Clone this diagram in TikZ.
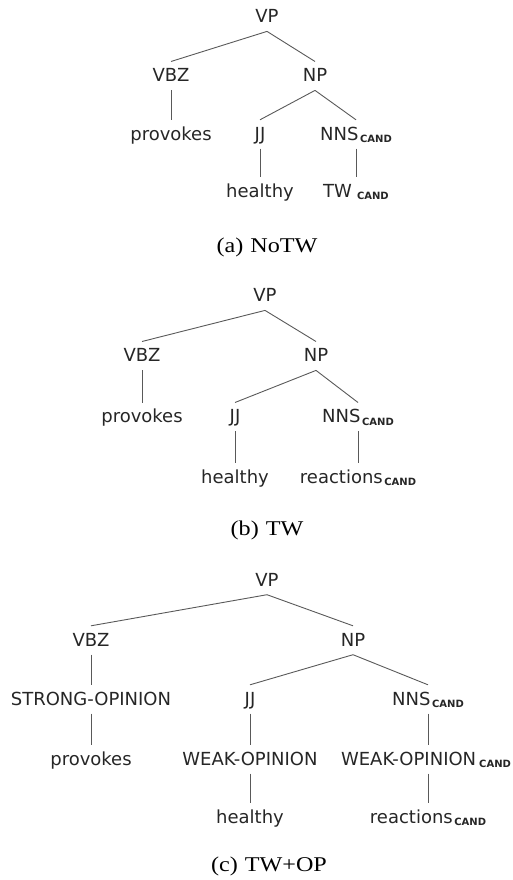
\documentclass[tikz,border=0pt]{standalone}
\usepackage{fontspec}
\setmainfont{Liberation Serif}
\newfontfamily\treefont{DejaVu Sans}
\newfontfamily\capfont[FakeStretch=1.15]{Liberation Serif}
\newcommand{\cand}[1][1.5pt]{\kern#1\raisebox{-2.5pt}{\fontsize{10}{10}\selectfont\bfseries CAND}}
\tikzset{
	lbl/.style={font=\treefont\fontsize{18}{20}\selectfont, text=black!85, inner sep=0pt, text height=20pt, text depth=8.5pt, anchor=base},
	capt/.style={font=\capfont\fontsize{21}{24}\selectfont, inner sep=0pt, anchor=base},
	edge/.style={draw=black!65, line width=0.9pt}
}
\begin{document}
\begin{tikzpicture}[x=1pt,y=-1pt]
\useasboundingbox (0,0) rectangle (512,880);
\node[lbl] (vp1) at (267,22.7) {VP};
\node[lbl] (vbz1) at (171,81.7) {VBZ};
\node[lbl] (np1) at (315,81.7) {NP};
\node[lbl] (prov1) at (171,140) {provokes};
\node[lbl] (jj1) at (260,140) {JJ};
\node[lbl] (nns1) at (356,140) {NNS\cand};
\node[lbl] (hea1) at (260,197.3) {healthy};
\node[lbl] (tw1) at (356,197.3) {TW\cand[5pt]};
\node[capt] (cap1) at (267,252) {(a)\hspace{7pt}NoTW};
\node[lbl] (vp2) at (265,301.7) {VP};
\node[lbl] (vbz2) at (142,361.7) {VBZ};
\node[lbl] (np2) at (316,361.7) {NP};
\node[lbl] (prov2) at (142,422.7) {provokes};
\node[lbl] (jj2) at (235,422.7) {JJ};
\node[lbl] (nns2) at (358,422.7) {NNS\cand};
\node[lbl] (hea2) at (235,483) {healthy};
\node[lbl] (rea2) at (358,483) {reactions\cand};
\node[capt] (cap2) at (267,535) {(b)\hspace{7pt}TW};
\node[lbl] (vp3) at (267,586) {VP};
\node[lbl] (vbz3) at (91,646) {VBZ};
\node[lbl] (np3) at (353,646) {NP};
\node[lbl] (str3) at (91,705) {STRONG-OPINION};
\node[lbl] (jj3) at (250,705) {JJ};
\node[lbl] (nns3) at (428,705) {NNS\cand};
\node[lbl] (prov3) at (91,765) {provokes};
\node[lbl] (weak3) at (250,765) {WEAK-OPINION};
\node[lbl] (weakc3) at (426,765) {WEAK-OPINION\cand[3pt]};
\node[lbl] (hea3) at (250,823.3) {healthy};
\node[lbl] (rea3) at (428,823.3) {reactions\cand};
\node[capt] (cap3) at (269,871.7) {(c)\hspace{7pt}TW+OP};
\foreach \p/\c in {vp1/vbz1,vp1/np1,vbz1/prov1,np1/jj1,np1/nns1,jj1/hea1,nns1/tw1,
	vp2/vbz2,vp2/np2,vbz2/prov2,np2/jj2,np2/nns2,jj2/hea2,nns2/rea2,
	vp3/vbz3,vp3/np3,vbz3/str3,np3/jj3,np3/nns3,str3/prov3,jj3/weak3,weak3/hea3}
	\draw[edge] (\p.south) -- (\c.north);
\foreach \p/\c in {nns3/weakc3,weakc3/rea3}
	\draw[edge] (\p.south -| rea3) -- (\c.north -| rea3);
\end{tikzpicture}
\end{document}
